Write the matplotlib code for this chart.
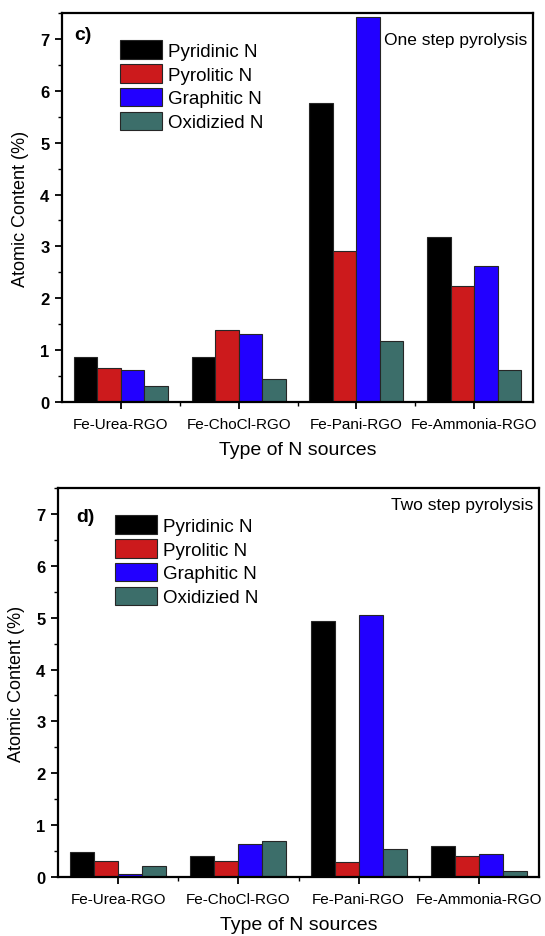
import matplotlib
matplotlib.use("Agg")
import matplotlib.pyplot as plt
import numpy as np
from matplotlib.ticker import MultipleLocator, FixedLocator

plt.rcParams['font.family'] = ['Liberation Sans', 'DejaVu Sans']

categories = ["Fe-Urea-RGO", "Fe-ChoCl-RGO", "Fe-Pani-RGO", "Fe-Ammonia-RGO"]
series_names = ["Pyridinic N", "Pyrolitic N", "Graphitic N", "Oxidizied N"]

one_pyridinic = [0.86, 0.87, 5.77, 3.18]
one_pyrolitic = [0.65, 1.39, 2.92, 2.23]
one_graphitic = [0.61, 1.31, 7.42, 2.63]
one_oxidized = [0.30, 0.44, 1.18, 0.61]

two_pyridinic = [0.48, 0.41, 4.94, 0.59]
two_pyrolitic = [0.31, 0.31, 0.28, 0.41]
two_graphitic = [0.06, 0.64, 5.05, 0.45]
two_oxidized = [0.22, 0.69, 0.54, 0.12]

colors = ["#000000", "#cc1a1c", "#2200ff", "#3c6e6a"]

fig = plt.figure(figsize=(5.45, 9.37), dpi=100)
ax1 = fig.add_axes([62/545, 1-403/937, 471/545, 389/937])
ax2 = fig.add_axes([58/545, 1-878/937, 481/545, 389/937])

def draw(ax, data, label, title, lab_pos, leg_pos, title_y):
    x = np.arange(1, len(categories) + 1)
    w = 0.2
    for i, (vals, name, c) in enumerate(zip(data, series_names, colors)):
        ax.bar(x + (i - 1.5) * w, vals, width=w, color=c, edgecolor="#262626",
               linewidth=0.8, label=name, zorder=2)
    ax.set_xlim(0.5, 4.5)
    ax.set_ylim(0, 7.5)
    ax.set_xticks(x)
    ax.set_xticklabels(categories, fontsize=11)
    ax.xaxis.set_minor_locator(FixedLocator([1.5, 2.5, 3.5]))
    ax.yaxis.set_major_locator(MultipleLocator(1))
    ax.yaxis.set_minor_locator(MultipleLocator(0.5))
    for lab in ax.get_yticklabels():
        lab.set_fontweight('bold')
        lab.set_fontsize(12)
    ax.tick_params(axis='both', which='major', direction='out', length=5, width=1.3, pad=4)
    ax.tick_params(axis='both', which='minor', direction='out', length=3, width=1.0)
    ax.tick_params(axis='x', which='major', pad=6)
    ax.tick_params(top=False, right=False, which='both')
    for s in ax.spines.values():
        s.set_linewidth(1.6)
    ax.set_xlabel("Type of N sources", fontsize=14, labelpad=7)
    ax.set_ylabel("Atomic Content (%)", fontsize=13, labelpad=8)
    ax.text(lab_pos[0], lab_pos[1], label, transform=ax.transAxes, fontsize=14,
            fontweight='bold', ha='left', va='center')
    ax.text(0.988, title_y, title, transform=ax.transAxes, fontsize=12.5,
            ha='right', va='center')
    ax.legend(loc='upper left', bbox_to_anchor=leg_pos, frameon=False,
              fontsize=13.5, handlelength=2.25, handleheight=1.15,
              labelspacing=0.22, handletextpad=0.3, borderpad=0, borderaxespad=0)

draw(ax1, [one_pyridinic, one_pyrolitic, one_graphitic, one_oxidized],
     "c)", "One step pyrolysis", (0.026, 0.946), (0.123, 0.93), 0.933)
draw(ax2, [two_pyridinic, two_pyrolitic, two_graphitic, two_oxidized],
     "d)", "Two step pyrolysis", (0.038, 0.928), (0.118, 0.93), 0.957)

fig.savefig("out.png", dpi=100)
